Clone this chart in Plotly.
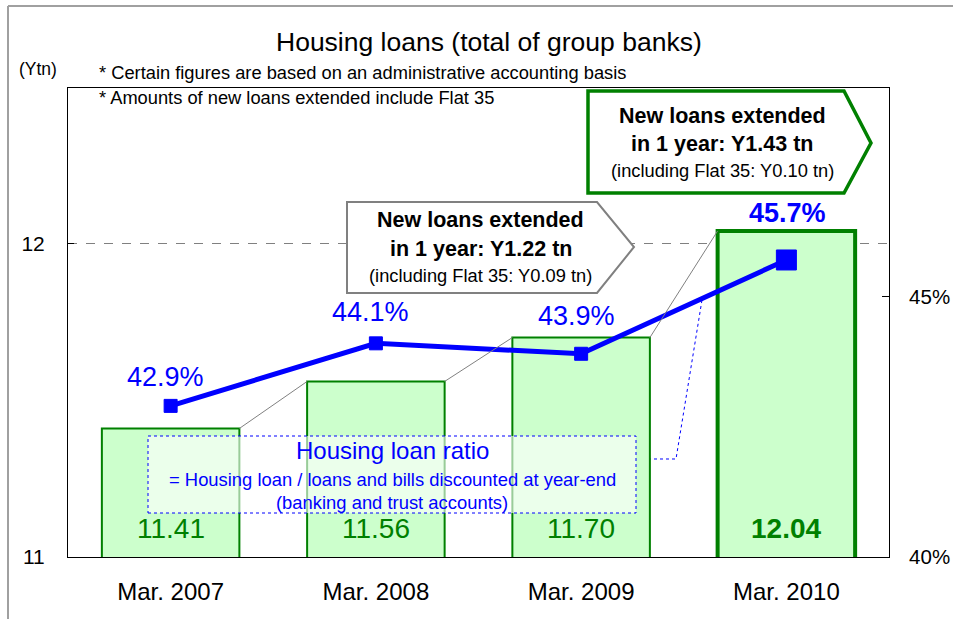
import plotly.graph_objects as go

# ---- data ----
categories = ["Mar. 2007", "Mar. 2008", "Mar. 2009", "Mar. 2010"]
housing_loans = [11.41, 11.56, 11.70, 12.04]          # Ytn (left axis)
loan_ratio = [42.9, 44.1, 43.9, 45.7]                  # % (right axis)
bar_labels = ["11.41", "11.56", "11.70", "<b>12.04</b>"]
ratio_labels = ["42.9%", "44.1%", "43.9%", "<b>45.7%</b>"]
y_ticks = [11, 12]
y2_ticks = [40, 45]
y2_ticktext = ["40%", "45%"]

# ---- style / geometry ----
FONT = "Liberation Sans, Arial, sans-serif"
W, H = 953, 619
L, R, T, B = 68, 889, 88, 557
GREEN = "#008000"
BLUE = "#0000FF"
BAR_W = 0.67


def px(x):
    return (x - L) / (R - L)


def py(y):
    return (B - y) / (B - T)


xs = list(range(len(categories)))

fig = go.Figure()
fig.add_trace(go.Bar(
    x=xs, y=housing_loans, width=BAR_W,
    marker=dict(color="#CCFFCC", line=dict(color=GREEN, width=[2, 2, 2, 4])),
    hoverinfo="skip", showlegend=False,
))
fig.add_trace(go.Scatter(
    x=xs, y=loan_ratio, yaxis="y2", mode="lines+markers",
    line=dict(color=BLUE, width=5),
    marker=dict(symbol="square", size=[13, 13, 13, 20], color=BLUE, opacity=1,
                line=dict(color=BLUE, width=1)),
    hoverinfo="skip", showlegend=False,
))

shapes = []
# connector lines between bar tops
for i in range(len(xs) - 1):
    shapes.append(dict(type="line", xref="x", yref="y",
                       x0=xs[i] + BAR_W / 2, y0=housing_loans[i],
                       x1=xs[i + 1] - BAR_W / 2, y1=housing_loans[i + 1],
                       line=dict(color="#808080", width=1), layer="above"))


def path(points, close=True):
    s = "M " + " L ".join(f"{px(a):.5f},{py(b):.5f}" for a, b in points)
    return s + (" Z" if close else "")


# gray callout
shapes.append(dict(type="path", xref="paper", yref="paper",
                   path=path([(347, 202), (597, 202), (634, 247), (597, 293), (347, 293)]),
                   fillcolor="white", line=dict(color="#808080", width=2), layer="above"))
# green callout
shapes.append(dict(type="path", xref="paper", yref="paper",
                   path=path([(588, 91), (844, 91), (871, 143), (844, 193), (588, 193)]),
                   fillcolor="white", line=dict(color=GREEN, width=3.5), layer="above"))
# housing loan ratio box
shapes.append(dict(type="rect", xref="paper", yref="paper",
                   x0=px(148), x1=px(636), y0=py(513), y1=py(436),
                   fillcolor="rgba(255,255,255,0.6)",
                   line=dict(color=BLUE, width=1, dash="dot"), layer="above"))
# dotted leader
shapes.append(dict(type="path", xref="paper", yref="paper",
                   path=path([(636, 459), (676, 459), (702, 300)], close=False),
                   line=dict(color=BLUE, width=1, dash="dot"), layer="below"))
# outer gray frame (top and left)
shapes.append(dict(type="line", xref="paper", yref="paper",
                   x0=px(8), y0=py(6), x1=px(953), y1=py(6),
                   line=dict(color="#A0A0A0", width=2)))
shapes.append(dict(type="line", xref="paper", yref="paper",
                   x0=px(8), y0=py(6), x1=px(8), y1=py(619),
                   line=dict(color="#A0A0A0", width=2)))

ann = []


def text(x, y, s, size, color="black", xanchor="center"):
    ann.append(dict(xref="paper", yref="paper", x=px(x), y=py(y), text=s,
                    showarrow=False, xanchor=xanchor, yanchor="middle",
                    font=dict(family=FONT, size=size, color=color)))


text(489, 42, "Housing loans (total of group banks)", 26.5)
text(17, 69, "(Ytn)", 17.5, xanchor="left")
text(97, 72, "* Certain figures are based on an administrative accounting basis", 18.3, xanchor="left")
text(97, 98, "* Amounts of new loans extended include Flat 35", 18.3, xanchor="left")

text(481, 220, "<b>New loans extended</b>", 21.5)
text(481, 249, "<b>in 1 year: Y1.22 tn</b>", 21.5)
text(481, 275, "(including Flat 35: Y0.09 tn)", 18.3)
text(722, 116, "<b>New loans extended</b>", 21.5)
text(722, 144, "<b>in 1 year: Y1.43 tn</b>", 21.5)
text(722, 170, "(including Flat 35: Y0.10 tn)", 18.3)

text(392, 450, "Housing loan ratio", 24, color=BLUE)
text(392, 479, "= Housing loan / loans and bills discounted at year-end", 18.4, color=BLUE)
text(392, 502, "(banking and trust accounts)", 18.4, color=BLUE)

ratio_shift = [29, 31, 38, 47]
ratio_xshift = [-5, -5, -5, 1]
for i, (v, s) in enumerate(zip(loan_ratio, ratio_labels)):
    ann.append(dict(xref="x", yref="y2", x=xs[i], y=v, text=s, showarrow=False,
                    yanchor="middle", yshift=ratio_shift[i], xshift=ratio_xshift[i],
                    font=dict(family=FONT, size=27, color=BLUE)))
for i, s in enumerate(bar_labels):
    ann.append(dict(xref="x", yref="y", x=xs[i], y=y_ticks[0], text=s, showarrow=False,
                    yanchor="middle", yshift=29,
                    font=dict(family=FONT, size=28, color=GREEN)))

fig.update_layout(
    width=W, height=H, autosize=False,
    margin=dict(l=L, r=W - R, t=T, b=H - B, pad=0, autoexpand=False),
    paper_bgcolor="white", plot_bgcolor="white",
    font=dict(family=FONT, color="black"),
    xaxis=dict(range=[-0.5, 3.5], tickvals=xs, ticktext=categories,
               showline=True, linecolor="black", linewidth=1, mirror=True,
               ticks="", showgrid=False, zeroline=False, automargin=False,
               tickfont=dict(size=24, family=FONT), ticklabelstandoff=13),
    yaxis=dict(range=[11, 12.496], tickvals=y_ticks, ticktext=[str(t) for t in y_ticks],
               showline=True, linecolor="black", linewidth=1,
               ticks="inside", ticklen=6, tickcolor="black", automargin=False,
               showgrid=True, gridcolor="#808080", griddash="dash", gridwidth=1,
               zeroline=False, tickfont=dict(size=21, family=FONT),
               ticklabelstandoff=18),
    yaxis2=dict(range=[40, 49], tickvals=y2_ticks, ticktext=y2_ticktext,
                overlaying="y", side="right", automargin=False,
                showline=True, linecolor="black", linewidth=1,
                ticks="inside", ticklen=7, tickcolor="black",
                showgrid=False, zeroline=False, tickfont=dict(size=20.5, family=FONT),
                ticklabelstandoff=15),
    shapes=shapes, annotations=ann,
    showlegend=False,
)

fig.write_html("out.html", config={"displayModeBar": False},
               post_script="document.body.style.margin='0';")
